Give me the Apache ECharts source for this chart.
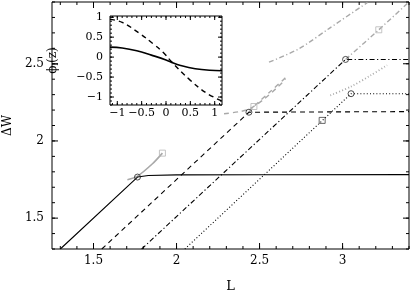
<!DOCTYPE html>
<html><head><meta charset="utf-8">
<script src="https://cdn.jsdelivr.net/npm/echarts@6/dist/echarts.min.js"></script>
<style>html,body{margin:0;padding:0;background:#fff}#c{width:411px;height:290px}</style>
</head><body><div id="c"></div>
<script>
// ---- main panel data (L, ΔW) ----
const solidBlack   = [[1.30,1.30],[1.765,1.766],[1.83,1.776],[2.0,1.780],[2.5,1.781],[3.4,1.782]];
const dashedBlack  = [[1.55,1.30],[2.436,2.186],[3.4,2.190]];
const dashdotBlack = [[1.79,1.30],[3.018,2.528],[3.4,2.528]];
const dottedBlack  = [[2.05,1.30],[3.051,2.306],[3.4,2.306]];
const solidGray    = [[1.704,1.749],[1.765,1.772],[1.855,1.852],[1.915,1.921]];
const dashedGrayA  = [[2.286,2.176],[2.38,2.190],[2.44,2.208],[2.52,2.265],[2.60,2.340],[2.657,2.400]];
const dashedGrayB  = [[2.436,2.186],[2.466,2.223],[2.57,2.325],[2.657,2.410]];
const dashdotGrayA = [[2.557,2.510],[2.737,2.597],[2.918,2.728],[3.15,2.897]];
const dashdotGrayB = [[3.018,2.528],[3.218,2.720],[3.39,2.890]];
const dottedGray   = [[2.926,2.295],[3.05,2.352],[3.17,2.425],[3.268,2.490]];
const circles      = [[1.765,1.766],[2.436,2.186],[3.018,2.528],[3.051,2.306]];
const graySquares  = [[1.915,1.921],[2.466,2.223],[3.218,2.720]];
const darkSquares  = [[2.877,2.133]];
// ---- inset data (z, phi) ----
const insetSolid  = [[-1.15,0.25],[-0.9,0.23],[-0.6,0.16],[-0.3,0.05],[0,-0.07],[0.15,-0.15],[0.3,-0.21],[0.6,-0.29],[0.9,-0.33],[1.15,-0.34]];
const insetDashed = [[-1.15,0.95],[-0.9,0.87],[-0.55,0.60],[-0.25,0.32],[-0.06,0.12],[0.14,-0.15],[0.49,-0.57],[0.83,-0.90],[1.15,-1.10]];
// ---- ticks ----
const mainXTicks = [1.5,2,2.5,3];
const mainYTicks = [1.5,2,2.5];
const insetXTicks = [-1,-0.5,0,0.5,1];
const insetYTicks = [-1,-0.5,0,0.5,1];
function steps(a,b){const r=[];for(let k=a;k<=b;k++)r.push(+(k/10).toFixed(1));return r;}
const mainXMinor = steps(13,34), mainYMinor = steps(13,29);
const insetXMinor = steps(-11,11), insetYMinor = steps(-12,10);

const MAIN = {xmin:1.25, xmax:3.4, ymin:1.3, ymax:2.9};
const INSET = {xmin:-1.15, xmax:1.15, ymin:-1.2, ymax:1.03};

const FONT = 'DejaVu Serif';
const fmt = v => String(v).replace('-', '\u2212');

function tickData(xMaj, xMin, yMaj, yMin){
  const d=[];
  xMin.forEach(v=>d.push([v,0,0])); xMaj.forEach(v=>d.push([v,0,1]));
  yMin.forEach(v=>d.push([v,1,0])); yMaj.forEach(v=>d.push([v,1,1]));
  return d;
}
function tickSeries(grid, rng, xMaj, xMin, yMaj, yMin, lenMaj, lenMin){
  return {
    type:'custom', xAxisIndex:grid, yAxisIndex:grid, z:4, silent:true, animation:false, clip:false,
    data: tickData(xMaj,xMin,yMaj,yMin),
    renderItem: function(params, api){
      const v=api.value(0), isY=api.value(1), maj=api.value(2);
      const len = maj ? lenMaj : lenMin;
      const st = {stroke:'#000', lineWidth:1};
      let a,b;
      if(!isY){
        a = api.coord([v, rng.ymin]); b = api.coord([v, rng.ymax]);
        return {type:'group', children:[
          {type:'line', shape:{x1:a[0],y1:a[1],x2:a[0],y2:a[1]-len}, style:st},
          {type:'line', shape:{x1:b[0],y1:b[1],x2:b[0],y2:b[1]+len}, style:st}]};
      } else {
        a = api.coord([rng.xmin, v]); b = api.coord([rng.xmax, v]);
        return {type:'group', children:[
          {type:'line', shape:{x1:a[0],y1:a[1],x2:a[0]+len,y2:a[1]}, style:st},
          {type:'line', shape:{x1:b[0],y1:b[1],x2:b[0]-len,y2:b[1]}, style:st}]};
      }
    }
  };
}
function axis(grid, min, max, ticks, labelOpt, extra){
  return Object.assign({
    type:'value', gridIndex:grid, min:min, max:max, nameMoveOverlap:false,
    axisLine:{show:false}, axisTick:{show:false}, splitLine:{show:false},
    axisLabel:Object.assign({customValues:ticks, formatter:fmt, color:'#000', fontFamily:FONT, fontSize:12}, labelOpt)
  }, extra||{});
}
const xAxes = [
  axis(0, MAIN.xmin, MAIN.xmax, mainXTicks, {margin:6}, {name:'L',nameLocation:'middle',nameGap:31,nameTextStyle:{fontFamily:FONT,fontSize:13,color:'#000'}}),
  axis(1, INSET.xmin, INSET.xmax, insetXTicks, {margin:3, fontSize:11})
];
const yAxes = [
  axis(0, MAIN.ymin, MAIN.ymax, mainYTicks, {margin:8}, {name:'\u0394W',nameLocation:'middle',nameGap:38,nameRotate:90,nameTextStyle:{fontFamily:FONT,fontSize:12,color:'#000'}}),
  axis(1, INSET.ymin, INSET.ymax, insetYTicks, {margin:7, fontSize:11}, {name:'{a|\u03d5}{s|l}{a|(z)}',nameLocation:'middle',nameGap:50,nameRotate:90,
     nameTextStyle:{rich:{a:{fontFamily:FONT,fontSize:12,color:'#000'},s:{fontFamily:FONT,fontSize:8,color:'#000',padding:[6,0,0,0]}}}})
];
function line(data, color, width, type, smooth, gi, z){
  return {type:'line', data:data, xAxisIndex:gi||0, yAxisIndex:gi||0, showSymbol:false, symbol:'none',
    smooth:smooth, z:z||2, lineStyle:{color:color, width:width, type:type}, silent:true, animation:false};
}
const GRAY='#a9a9a9';
const DASH=[5,4], DASHDOT=[5,2.5,1.2,2.5], DOT=[1,2.2];
const series = [
  line(solidGray,GRAY,1.6,'solid',0.3),
  line(dashedGrayA,GRAY,1.4,DASH,0.3),
  line(dashedGrayB,GRAY,1.4,DASH,0.3),
  line(dashdotGrayA,GRAY,1.4,DASHDOT,0.3),
  line(dashdotGrayB,GRAY,1.4,DASHDOT,0.3),
  line(dottedGray,GRAY,1.8,DOT,0.3),
  line(solidBlack,'#000',1.1,'solid',false),
  line(dashedBlack,'#000',1.1,DASH,false),
  line(dashdotBlack,'#000',1.1,DASHDOT,false),
  line(dottedBlack,'#000',1.1,DOT,false),
  {type:'scatter', data:circles, symbol:'circle', symbolSize:6, z:5, itemStyle:{color:'rgba(255,255,255,0)', borderColor:'#222', borderWidth:1}, silent:true, animation:false},
  {type:'scatter', data:graySquares, symbol:'rect', symbolSize:6, z:5, itemStyle:{color:'rgba(255,255,255,0)', borderColor:'#b5b5b5', borderWidth:1}, silent:true, animation:false},
  {type:'scatter', data:darkSquares, symbol:'rect', symbolSize:6, z:5, itemStyle:{color:'rgba(255,255,255,0)', borderColor:'#444', borderWidth:1}, silent:true, animation:false},
  line(insetSolid,'#000',1.6,'solid',0.4,1),
  line(insetDashed,'#000',1.4,[5,4],0.4,1),
  tickSeries(0, MAIN, mainXTicks, mainXMinor, mainYTicks, mainYMinor, 6, 3),
  tickSeries(1, INSET, insetXTicks, insetXMinor, insetYTicks, insetYMinor, 4, 2)
];
const chart = echarts.init(document.getElementById('c'), null, {renderer:'canvas'});
chart.setOption({
  animation:false,
  backgroundColor:'#fff',
  grid:[
    {left:52, right:2, top:2, bottom:41, show:true, borderColor:'#000', borderWidth:1, backgroundColor:'transparent', outerBoundsMode:'none', containLabel:false},
    {left:110, top:16, width:112, height:89, show:true, backgroundColor:'#fff', borderColor:'#000', borderWidth:1, outerBoundsMode:'none', containLabel:false}
  ],
  xAxis:xAxes, yAxis:yAxes, series:series
});
</script></body></html>
